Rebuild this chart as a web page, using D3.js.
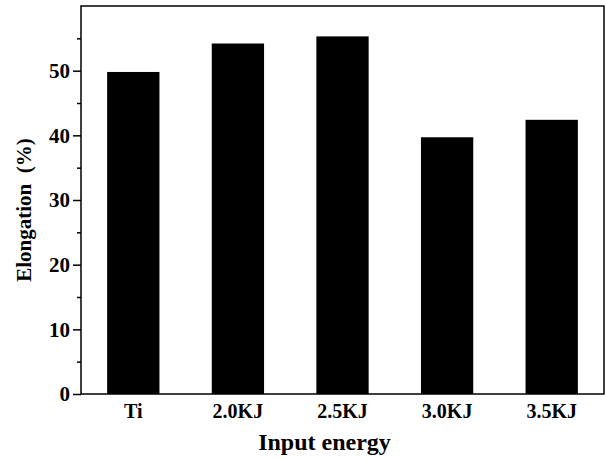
<!DOCTYPE html>
<html>
<head>
<meta charset="utf-8">
<script src="https://cdn.jsdelivr.net/npm/d3@7"></script>
<style>
  body { margin: 0; background: #fff; }
  svg text { font-family: "Liberation Serif", "Times New Roman", serif; font-weight: bold; fill: #000; }
</style>
</head>
<body>
<div id="chart"></div>
<script>
var categories = ["Ti", "2.0KJ", "2.5KJ", "3.0KJ", "3.5KJ"];
var elongation = [49.8, 54.2, 55.3, 39.7, 42.4];
var yTicks = [0, 10, 20, 30, 40, 50];
var yMinorTicks = [5, 15, 25, 35, 45, 55];

var W = 606, H = 459;
var margin = { top: 6, right: 2, bottom: 65, left: 81 };
var width = W - margin.left - margin.right,
    height = H - margin.top - margin.bottom;

var svg = d3.select("#chart").append("svg")
    .attr("width", W)
    .attr("height", H);

var g = svg.append("g")
    .attr("transform", "translate(" + margin.left + "," + margin.top + ")");

var x = d3.scaleBand()
    .domain(categories)
    .range([0, width])
    .paddingInner(0.5)
    .paddingOuter(0.25);

var y = d3.scaleLinear()
    .domain([0, 60])
    .range([height, 0]);

// bars
g.selectAll(".bar")
    .data(elongation)
    .enter().append("rect")
    .attr("class", "bar")
    .attr("x", function(d, i) { return x(categories[i]); })
    .attr("width", x.bandwidth())
    .attr("y", function(d) { return y(d); })
    .attr("height", function(d) { return height - y(d); })
    .style("fill", "#000");

// frame
g.append("rect")
    .attr("width", width)
    .attr("height", height)
    .style("fill", "none")
    .style("stroke", "#000")
    .style("stroke-width", 1.5);

// y axis
var yAxis = g.append("g")
    .call(d3.axisLeft(y).tickValues(yTicks).tickSize(8).tickPadding(3).tickFormat(d3.format("d")));
yAxis.select(".domain").remove();
yAxis.selectAll("line").style("stroke-width", 1.5);
yAxis.selectAll("text").style("font-size", "21px").style("font-family", null);

var yMinor = g.append("g")
    .call(d3.axisLeft(y).tickValues(yMinorTicks).tickSize(4).tickFormat(""));
yMinor.select(".domain").remove();
yMinor.selectAll("line").style("stroke-width", 1.5);

// x axis
var xAxis = g.append("g")
    .attr("transform", "translate(0," + height + ")")
    .call(d3.axisBottom(x).tickSize(0).tickPadding(10));
xAxis.select(".domain").remove();
xAxis.selectAll("text").style("font-size", "20px").style("font-family", null);

// axis titles
svg.append("text")
    .attr("x", margin.left + width / 2 - 18)
    .attr("y", 450)
    .attr("text-anchor", "middle")
    .style("font-size", "24px")
    .text("Input energy");

svg.append("text")
    .attr("transform", "translate(31,210) rotate(-90)")
    .attr("text-anchor", "middle")
    .style("font-size", "21px")
    .style("white-space", "pre")
    .text("Elongation  (%)");
</script>
</body>
</html>
